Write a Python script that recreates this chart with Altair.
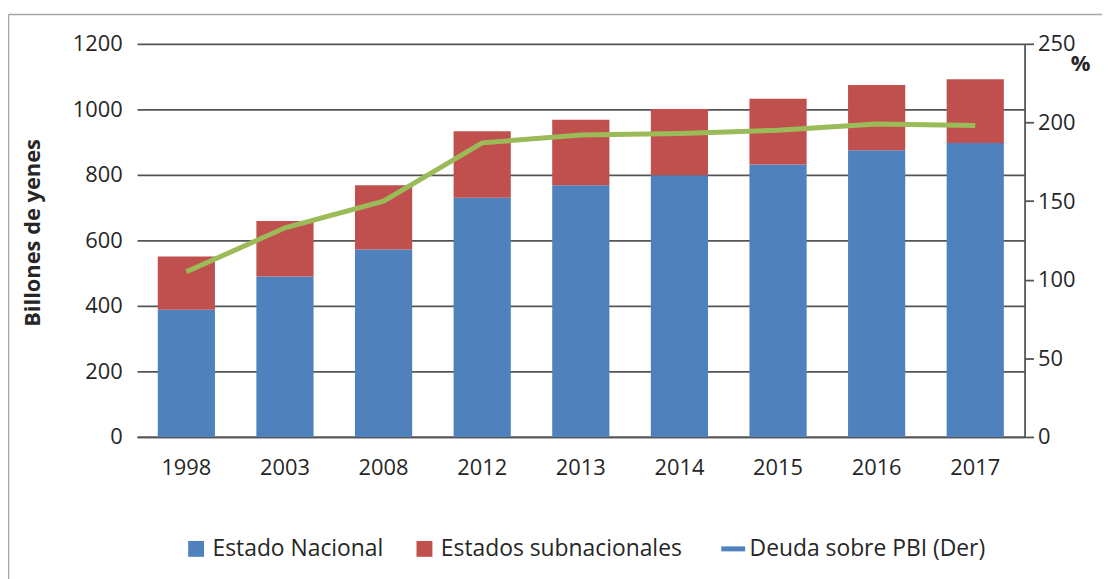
import altair as alt
import pandas as pd

years = ["1998", "2003", "2008", "2012", "2013", "2014", "2015", "2016", "2017"]
nacional = [388, 490, 572, 730, 768, 799, 832, 875, 897]
subnacional = [163, 169, 196, 203, 200, 202, 200, 199, 195]
deuda_pbi = [105, 133, 150, 187, 192, 193, 195, 199, 198]

S_NAC = "Estado Nacional"
S_SUB = "Estados subnacionales"
S_LINE = "Deuda sobre PBI (Der)"

left_ticks = [0, 200, 400, 600, 800, 1000, 1200]
right_ticks = [0, 50, 100, 150, 200, 250]

bars_df = pd.DataFrame(
    {
        "year": years * 2,
        "serie": [S_NAC] * len(years) + [S_SUB] * len(years),
        "orden": [0] * len(years) + [1] * len(years),
        "valor": nacional + subnacional,
    }
)
line_df = pd.DataFrame({"year": years, "deuda": deuda_pbi})
frame_df = pd.DataFrame({"k": [0]})

FONT = "Open Sans"
TXT = "#262626"
GRID = "#555555"

x_enc = alt.X(
    "year:N",
    sort=years,
    scale=alt.Scale(paddingInner=0.42, paddingOuter=0.21),
    axis=alt.Axis(
        title=None,
        labelAngle=0,
        ticks=False,
        domain=True,
        domainColor=GRID,
        domainWidth=1.8,
        labelPadding=21,
        labelFont=FONT,
        labelFontSize=22,
        labelColor=TXT,
        grid=False,
    ),
)

legend = alt.Legend(
    title=None,
    orient="none",
    direction="horizontal",
    legendX=48,
    legendY=497,
    padding=0,
    labelFont=FONT,
    labelFontSize=23,
    labelColor=TXT,
    labelLimit=0,
    labelOffset=5,
    columnPadding=29,
    symbolSize={"expr": f"datum.value == '{S_LINE}' ? 576 : 256"},
    symbolType={"expr": f"datum.value == '{S_LINE}' ? 'stroke' : 'square'"},
    symbolStrokeColor={"expr": f"datum.value == '{S_LINE}' ? '#4F81BD' : 'transparent'"},
    symbolStrokeWidth={"expr": f"datum.value == '{S_LINE}' ? 5 : 0"},
    symbolOpacity=1,
)

bars = (
    alt.Chart(bars_df)
    .mark_bar()
    .encode(
        x=x_enc,
        y=alt.Y(
            "valor:Q",
            stack="zero",
            scale=alt.Scale(domain=[0, 1200], nice=False),
            axis=alt.Axis(
                values=left_ticks,
                format="d",
                title="Billones de yenes",
                titleFont=FONT,
                titleFontSize=22,
                titleFontWeight="bold",
                titleColor=TXT,
                titleAngle=270,
                titleX=-105,
                titleY=190,
                titleAlign="center",
                titleBaseline="middle",
                ticks=False,
                domain=False,
                grid=True,
                gridColor=GRID,
                gridWidth=1.8,
                labelPadding=15,
                labelFont=FONT,
                labelFontSize=22,
                labelColor=TXT,
            ),
        ),
        color=alt.Color(
            "serie:N",
            scale=alt.Scale(
                domain=[S_NAC, S_SUB, S_LINE],
                range=["#4F81BD", "#C0504D", "#4F81BD"],
            ),
            legend=legend,
        ),
        order=alt.Order("orden:Q"),
    )
)

line = (
    alt.Chart(line_df)
    .mark_line(color="#9BBB59", strokeWidth=5)
    .encode(
        x=alt.X("year:N", sort=years),
        y=alt.Y(
            "deuda:Q",
            scale=alt.Scale(domain=[0, 250], nice=False),
            axis=alt.Axis(
                orient="right",
                values=right_ticks,
                format="d",
                title="%",
                titleFont=FONT,
                titleFontSize=22,
                titleFontWeight="bold",
                titleColor=TXT,
                titleAngle=0,
                titleX=56,
                titleY=20,
                titleAlign="center",
                titleBaseline="middle",
                grid=False,
                domain=True,
                domainColor=GRID,
                domainWidth=1.8,
                ticks=True,
                tickSize=9,
                tickColor=GRID,
                tickWidth=1.8,
                labelPadding=4,
                labelFont=FONT,
                labelFontSize=22,
                labelColor=TXT,
            ),
        ),
    )
)

frame_left = (
    alt.Chart(frame_df)
    .mark_rule(color="#a6a6a6", strokeWidth=1.5)
    .encode(x=alt.value(-129.5), y=alt.value(-29.5), y2=alt.value(560))
)
frame_top = (
    alt.Chart(frame_df)
    .mark_rule(color="#a6a6a6", strokeWidth=1.5)
    .encode(x=alt.value(-129.5), x2=alt.value(1000), y=alt.value(-29.5))
)

chart = (
    alt.layer(frame_left, frame_top, bars, line)
    .resolve_scale(y="independent")
    .properties(
        width=894,
        height=396,
        autosize=alt.AutoSizeParams(type="none"),
        padding={"left": 130, "top": 34, "right": 78, "bottom": 141},
        background="white",
    )
    .configure_view(stroke=None)
)

chart.save("out.html", embed_options={"renderer": "svg", "actions": False})
